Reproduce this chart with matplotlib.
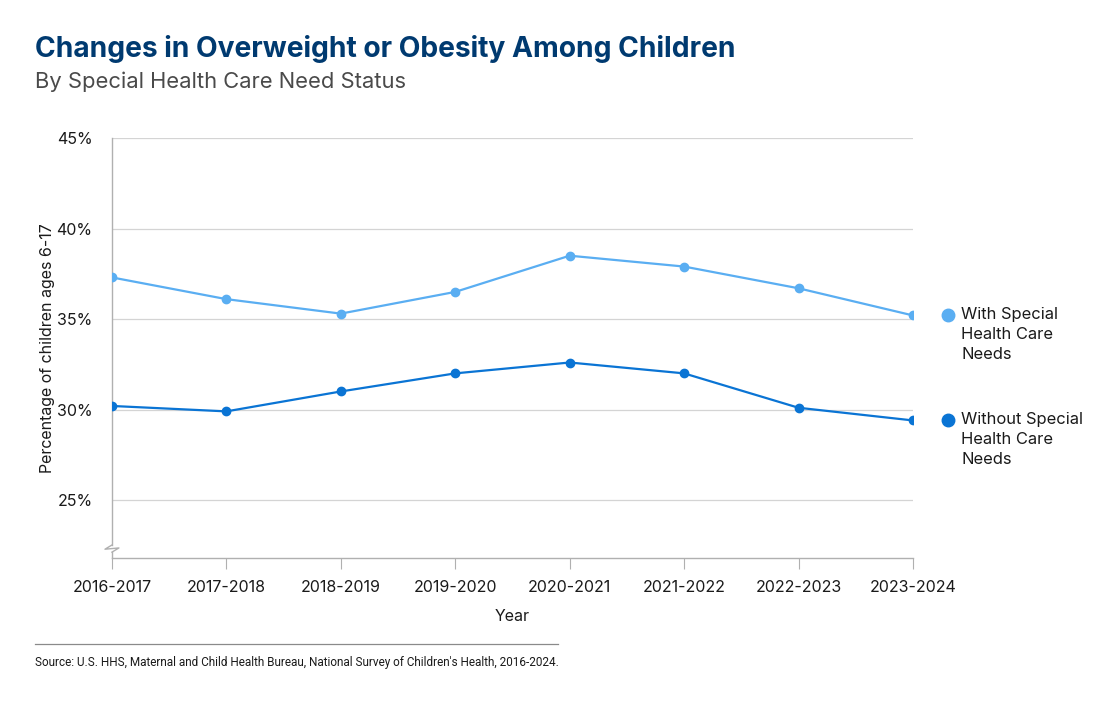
import matplotlib.pyplot as plt
from matplotlib.lines import Line2D
from matplotlib.ticker import FuncFormatter

years = ["2016-2017", "2017-2018", "2018-2019", "2019-2020",
         "2020-2021", "2021-2022", "2022-2023", "2023-2024"]
with_shcn = [37.3, 36.1, 35.3, 36.5, 38.5, 37.9, 36.7, 35.2]
without_shcn = [30.2, 29.9, 31.0, 32.0, 32.6, 32.0, 30.1, 29.4]
yticks = [25, 30, 35, 40, 45]

light_blue = '#5aaef2'
dark_blue = '#0a74d4'
navy = '#003a70'
text_col = '#1a1a1a'

plt.rcParams['font.family'] = ['Inter', 'DejaVu Sans']

fig = plt.figure(figsize=(11.15, 7.06), dpi=100)
ax = fig.add_axes([0.1004, 0.2096, 0.7184, 0.5949])

x = list(range(len(years)))
ax.plot(x, with_shcn, color=light_blue, lw=1.6, marker='o', ms=6, zorder=3)
ax.plot(x, without_shcn, color=dark_blue, lw=1.6, marker='o', ms=6, zorder=3)

ax.set_xlim(0, len(years) - 1)
ax.set_ylim(21.8, 45)
ax.set_yticks(yticks)
ax.yaxis.set_major_formatter(FuncFormatter(lambda v, p: f"{v:.0f}%"))
ax.set_xticks(x)
ax.set_xticklabels(years)
ax.grid(axis='y', color='#d4d4d4', lw=0.9)
ax.set_axisbelow(True)

for s in ['top', 'right']:
    ax.spines[s].set_visible(False)
for s in ['left', 'bottom']:
    ax.spines[s].set_color('#b0b0b0')
    ax.spines[s].set_linewidth(1)
ax.spines['left'].set_visible(False)
ax.tick_params(axis='y', length=0, pad=14, labelsize=11.5, labelcolor=text_col)
ax.tick_params(axis='x', length=8, color='#b0b0b0', pad=8, labelsize=11.5, labelcolor=text_col)

ax.set_xlabel("Year", fontsize=11.5, color=text_col, labelpad=10)
ax.set_ylabel("Percentage of children ages 6-17", fontsize=11.5, color=text_col, labelpad=1)

# left spine with a break near the bottom
spine_kw = dict(transform=ax.transAxes, color='#b0b0b0', lw=1, clip_on=False)
ax.add_line(Line2D([0, 0], [1, 0.031], **spine_kw))
ax.add_line(Line2D([0, -0.0087, 0.0087, 0], [0.031, 0.021, 0.024, 0.014], **spine_kw))
ax.add_line(Line2D([0, 0], [0.014, 0], **spine_kw))

# direct legend
for vals, col, lab in [(with_shcn, light_blue, "With Special\nHealth Care\nNeeds"),
                       (without_shcn, dark_blue, "Without Special\nHealth Care\nNeeds")]:
    ax.plot([len(years) - 1 + 0.31], [vals[-1]], marker='o', ms=9, color=col, clip_on=False)
    ax.text(len(years) - 1 + 0.42, vals[-1] + 0.48, lab, fontsize=11.9, color=text_col,
            va='top', ha='left', linespacing=1.42)

fig.text(0.031, 0.93, "Changes in Overweight or Obesity Among Children", fontsize=20.3,
         fontweight='bold', color=navy, ha='left', va='center')
fig.text(0.031, 0.884, "By Special Health Care Need Status", fontsize=15.8,
         color='#4a4a4a', ha='left', va='center')

fig.add_artist(Line2D([0.031, 0.5], [0.088, 0.088], transform=fig.transFigure,
                      color='#8a8a8a', lw=0.9))
fig.text(0.031, 0.062, "Source: U.S. HHS, Maternal and Child Health Bureau, National Survey of Children's Health, 2016-2024.",
         fontsize=8.5, color=text_col, ha='left', va='center',
         family=['Liberation Sans Narrow', 'DejaVu Sans Condensed', 'Roboto'])

fig.savefig("out.png", dpi=100, facecolor='white')
